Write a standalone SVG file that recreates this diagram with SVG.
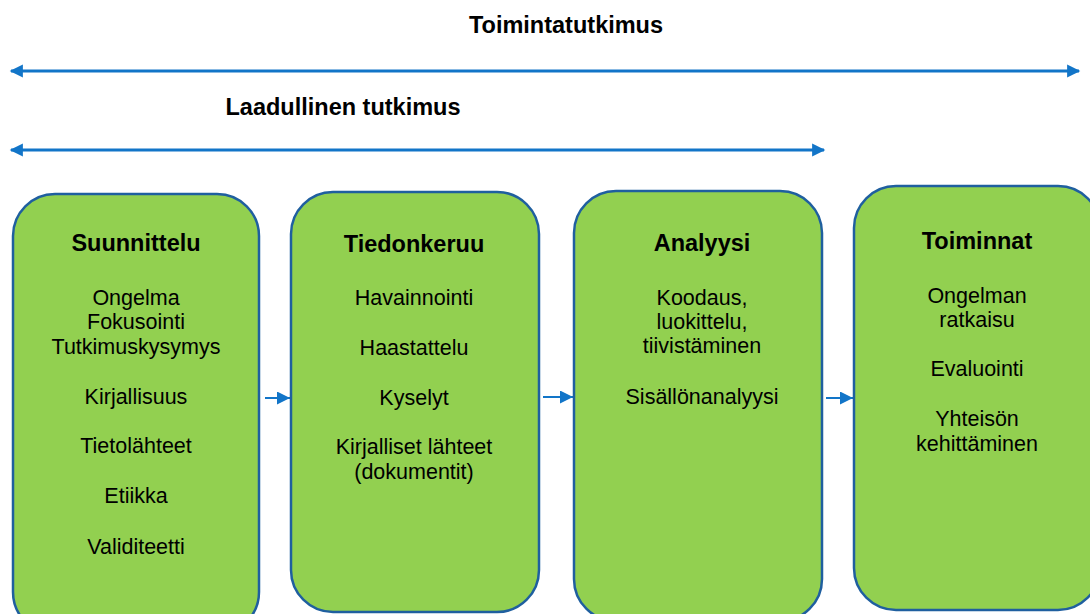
<svg xmlns="http://www.w3.org/2000/svg" width="1090" height="614" viewBox="0 0 1090 614">
<defs>
<style>
.box{fill:#92d050;stroke:#1f5f9f;stroke-width:2.5}
.t{font-family:"Liberation Sans",Arial,sans-serif;font-size:23.5px;font-weight:bold;fill:#000;text-anchor:middle}
.b{font-family:"Liberation Sans",Arial,sans-serif;font-size:21.5px;fill:#000;text-anchor:middle}
.ln{stroke:#1275c8;stroke-width:3;fill:none}
.sm{stroke:#1275c8;stroke-width:2;fill:none}
</style>
<marker id="ah" viewBox="0 0 10 10" refX="9" refY="5" markerWidth="5" markerHeight="4.4" orient="auto-start-reverse" markerUnits="strokeWidth">
<path d="M0,0 L10,5 L0,10 z" fill="#1275c8"/>
</marker>
<marker id="ahs" viewBox="0 0 10 10" refX="10" refY="5" markerWidth="13" markerHeight="13" orient="auto" markerUnits="userSpaceOnUse">
<path d="M0,0 L10,5 L0,10 z" fill="#1275c8"/>
</marker>
</defs>
<rect width="1090" height="614" fill="#fff"/>
<text class="t" x="566" y="33">Toimintatutkimus</text>
<text class="t" x="343" y="115">Laadullinen tutkimus</text>
<g id="connectors">
<line class="ln" x1="11" y1="71" x2="1079" y2="71" marker-start="url(#ah)" marker-end="url(#ah)"/>
<line class="ln" x1="11" y1="150" x2="824" y2="150" marker-start="url(#ah)" marker-end="url(#ah)"/>
<line class="sm" x1="265" y1="398" x2="290" y2="398" marker-end="url(#ahs)"/>
<line class="sm" x1="543" y1="397" x2="573" y2="397" marker-end="url(#ahs)"/>
<line class="sm" x1="826" y1="398" x2="853" y2="398" marker-end="url(#ahs)"/>
</g>
<g id="suunnittelu">
<rect class="box" x="13" y="194" width="246" height="440" rx="42"/>
<text class="t" x="136" y="251">Suunnittelu</text>
<text class="b" x="136" y="305">Ongelma</text>
<text class="b" x="136" y="329">Fokusointi</text>
<text class="b" x="136" y="354">Tutkimuskysymys</text>
<text class="b" x="136" y="404">Kirjallisuus</text>
<text class="b" x="136" y="453">Tietolähteet</text>
<text class="b" x="136" y="503">Etiikka</text>
<text class="b" x="136" y="554">Validiteetti</text>
</g>
<g id="tiedonkeruu">
<rect class="box" x="291" y="192" width="248" height="420" rx="42"/>
<text class="t" x="414" y="252">Tiedonkeruu</text>
<text class="b" x="414" y="305">Havainnointi</text>
<text class="b" x="414" y="355">Haastattelu</text>
<text class="b" x="414" y="405">Kyselyt</text>
<text class="b" x="414" y="454">Kirjalliset lähteet</text>
<text class="b" x="414" y="479">(dokumentit)</text>
</g>
<g id="analyysi">
<rect class="box" x="574" y="191" width="248" height="430" rx="42"/>
<text class="t" x="702" y="251">Analyysi</text>
<text class="b" x="702" y="305">Koodaus,</text>
<text class="b" x="702" y="329">luokittelu,</text>
<text class="b" x="702" y="353">tiivistäminen</text>
<text class="b" x="702" y="404">Sisällönanalyysi</text>
</g>
<g id="toiminnat">
<rect class="box" x="854" y="186" width="246" height="424" rx="42"/>
<text class="t" x="977" y="249">Toiminnat</text>
<text class="b" x="977" y="303">Ongelman</text>
<text class="b" x="977" y="327">ratkaisu</text>
<text class="b" x="977" y="376">Evaluointi</text>
<text class="b" x="977" y="426">Yhteisön</text>
<text class="b" x="977" y="451">kehittäminen</text>
</g>
</svg>
